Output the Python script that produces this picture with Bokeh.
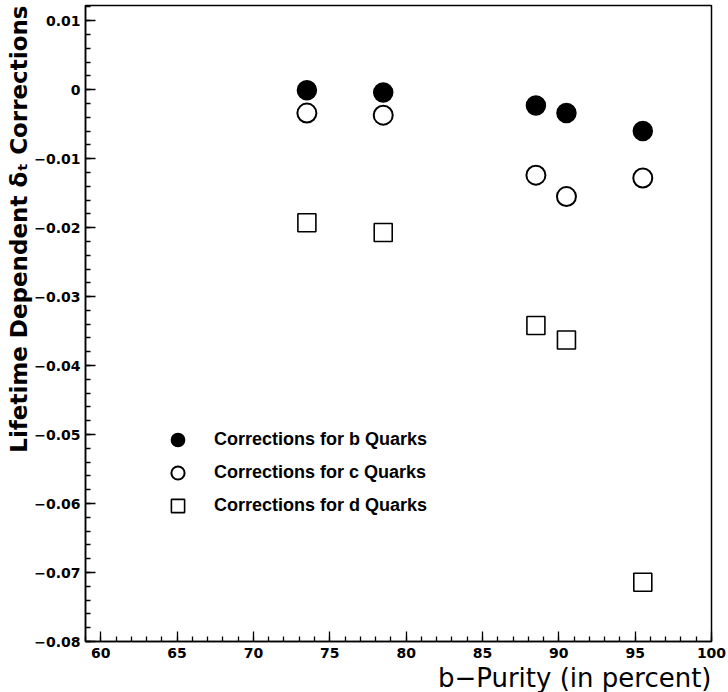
from bokeh.plotting import figure
from bokeh.models import Range1d, FixedTicker, Title, Legend, LegendItem
from bokeh.embed import file_html
from bokeh.resources import INLINE

# Data
purity = [73.5, 78.5, 88.5, 90.5, 95.5]
corr_b = [-0.0001, -0.0004, -0.0023, -0.0034, -0.0060]
corr_c = [-0.0034, -0.0037, -0.0124, -0.0155, -0.0128]
corr_d = [-0.0193, -0.0207, -0.0342, -0.0363, -0.0714]

x_ticks = [60, 65, 70, 75, 80, 85, 90, 95, 100]
y_ticks = [-0.08, -0.07, -0.06, -0.05, -0.04, -0.03, -0.02, -0.01, 0.0, 0.01]
y_labels = ["\u22120.08", "\u22120.07", "\u22120.06", "\u22120.05", "\u22120.04",
            "\u22120.03", "\u22120.02", "\u22120.01", "0", "0.01"]
legend_labels = ["Corrections for b Quarks", "Corrections for c Quarks", "Corrections for d Quarks"]
x_title = "b\u2212Purity (in percent)"
y_title = "Lifetime Dependent \u03b4\u209c Corrections"

TICK_FONT = "DejaVu Sans"
LEG_FONT = "Liberation Sans"

p = figure(width=728, height=692, output_backend="svg", toolbar_location=None,
           x_range=Range1d(59, 100), y_range=Range1d(-0.08, 0.0122),
           min_border_left=85, min_border_right=17, min_border_top=5, min_border_bottom=48)
p.xgrid.visible = False
p.ygrid.visible = False
p.outline_line_color = "black"
p.outline_line_width = 1.5
p.background_fill_color = "white"
p.border_fill_color = "white"

x_minor = [v for v in range(59, 101)]
y_minor = [round(-0.08 + 0.002 * i, 4) for i in range(47)]
p.xaxis.ticker = FixedTicker(ticks=x_ticks, minor_ticks=x_minor)
p.yaxis.ticker = FixedTicker(ticks=y_ticks, minor_ticks=y_minor)
p.yaxis.major_label_overrides = {t: l for t, l in zip(y_ticks, y_labels)}

for ax in (p.xaxis[0], p.yaxis[0]):
    ax.major_tick_in = 10
    ax.major_tick_out = 0
    ax.minor_tick_in = 5
    ax.minor_tick_out = 0
    ax.axis_line_width = 1.5
    ax.major_tick_line_width = 1.3
    ax.minor_tick_line_width = 1.3
    ax.major_label_text_font = TICK_FONT
    ax.major_label_text_font_style = "bold"
    ax.major_label_text_font_size = "14px"
    ax.major_label_text_color = "black"
    ax.axis_line_color = "black"
    ax.major_tick_line_color = "black"
    ax.minor_tick_line_color = "black"
p.xaxis.major_label_standoff = 6
p.yaxis.major_label_standoff = 5

rb = p.scatter(purity, corr_b, marker="circle", size=19, fill_color="black", line_color="black", line_width=1.5)
rc = p.scatter(purity, corr_c, marker="circle", size=19, fill_color="white", line_color="black", line_width=2)
rd = p.scatter(purity, corr_d, marker="square", size=18, fill_color="white", line_color="black", line_width=1.6)

legend = Legend(items=[LegendItem(label=legend_labels[0], renderers=[rb]),
                       LegendItem(label=legend_labels[1], renderers=[rc]),
                       LegendItem(label=legend_labels[2], renderers=[rd])],
                location=(76, 119), orientation="vertical")
legend.border_line_color = None
legend.background_fill_alpha = 0
legend.label_text_font = LEG_FONT
legend.label_text_font_style = "bold"
legend.label_text_font_size = "18px"
legend.label_text_color = "black"
legend.glyph_width = 33
legend.glyph_height = 33
legend.label_height = 33
legend.spacing = 0
legend.padding = 0
legend.margin = 0
legend.label_standoff = 20
p.add_layout(legend, "center")

p.add_layout(Title(text=x_title, align="right", text_font=TICK_FONT, text_font_size="26px",
                   text_font_style="normal", text_color="black", standoff=0), "below")
p.add_layout(Title(text=y_title, align="right", text_font=TICK_FONT, text_font_size="23px",
                   text_font_style="bold", text_color="black", standoff=0), "left")

open("out.html", "w").write(file_html(p, INLINE))
